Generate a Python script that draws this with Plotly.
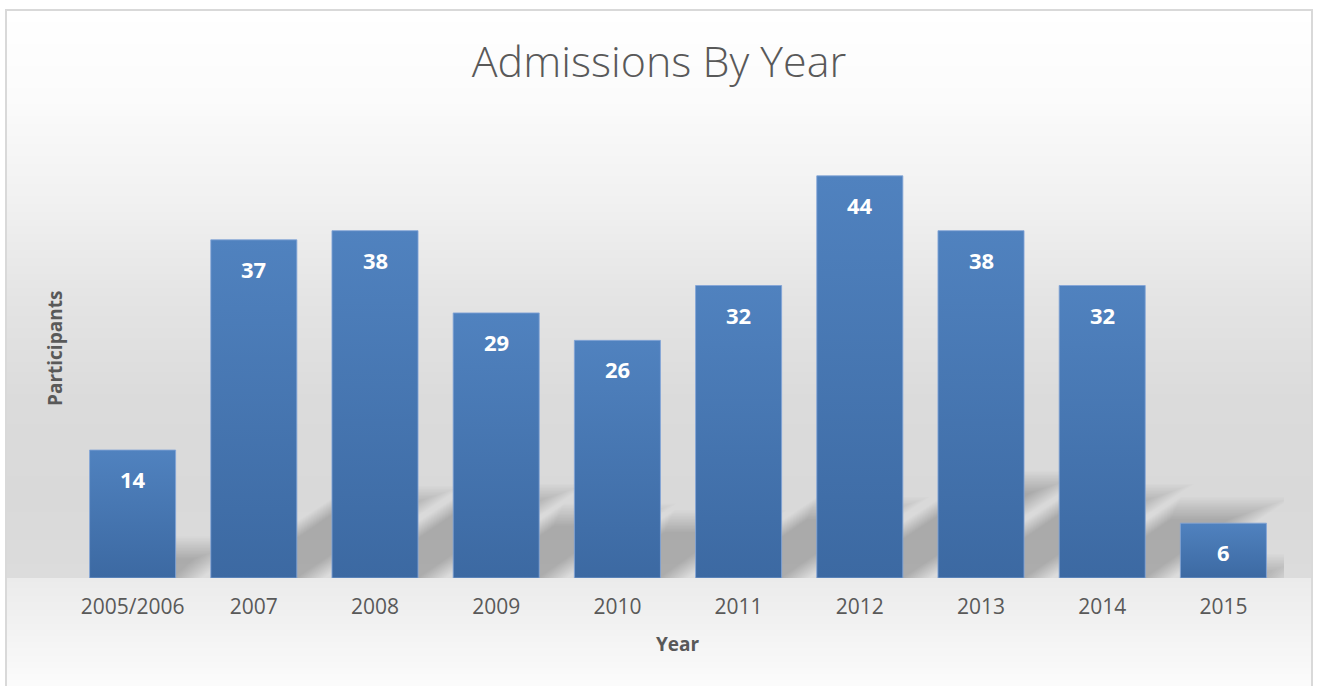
import plotly.graph_objects as go

# Admissions per year
years = ["2005/2006", "2007", "2008", "2009", "2010", "2011", "2012", "2013", "2014", "2015"]
participants = [14, 37, 38, 29, 26, 32, 44, 38, 32, 6]

W, H = 1320, 686
L, R, T, B = 72, 36, 121, 108
PW, PH = W - L - R, H - T - B
Y_MAX = 50
BAR_W = 0.71
FONT = "Open Sans"
GREY_TEXT = "#595959"

X_PX = PW / len(years)      # pixels per category
Y_PX = PH / Y_MAX           # pixels per unit


def px_x(px):
    return (px - L) / PW


def px_y(py):
    return (H - B - py) / PH


def hex2rgb(h):
    h = h.lstrip("#")
    return tuple(int(h[i:i + 2], 16) for i in (0, 2, 4))


def lerp_color(stops, y):
    for (y0, c0), (y1, c1) in zip(stops, stops[1:]):
        if y0 <= y <= y1:
            t = 0 if y1 == y0 else (y - y0) / (y1 - y0)
            a, b = hex2rgb(c0), hex2rgb(c1)
            return "rgb(%d,%d,%d)" % tuple(round(a[k] + (b[k] - a[k]) * t) for k in range(3))
    return stops[-1][1]


shapes = []

# chart-area gradient: light at top, grey towards the floor, lighter floor below
wall = [(10, "#ffffff"), (100, "#fbfbfb"), (200, "#f1f1f1"), (300, "#e4e4e4"),
        (400, "#dbdbdb"), (500, "#d9d9d9"), (578, "#dcdcdc")]
floor = [(578, "#ebebeb"), (620, "#f1f1f1"), (690, "#fcfcfc")]
for y in range(10, 690, 2):
    stops = wall if y < 578 else floor
    y_end = min(y + 3, 578) if y < 578 else y + 3
    shapes.append(dict(type="rect", xref="paper", yref="paper", layer="below",
                       x0=px_x(6), x1=px_x(1312), y0=px_y(y_end), y1=px_y(y),
                       fillcolor=lerp_color(stops, y + 1), line=dict(width=0)))

# soft perspective shadows cast up and to the right of each bar
SH_K = 0.24     # vertical squash of the shadow
SH_A = 0.40     # horizontal shear (px per px of bar height)
LAYERS = 16
BLUR = 11
for i, v in enumerate(participants):
    h_px = v * Y_PX
    top = SH_K * v
    shift = SH_A * h_px / X_PX
    for k in range(LAYERS):
        d = -BLUR + 2 * BLUR * k / (LAYERS - 1)          # inset in px
        dx = d * 1.2 / X_PX
        dy = d / Y_PX
        x0 = i - BAR_W / 2 + dx
        x1 = i + BAR_W / 2 - dx
        yt = max(top - dy, 0.05)
        sx = shift * (yt / top) if top else 0
        path = "M %f %f L %f %f L %f %f L %f %f Z" % (
            x0, -1, x1, -1, x1 + sx, yt, x0 + sx, yt)
        shapes.append(dict(type="path", xref="x", yref="y", layer="below", path=path,
                           fillcolor="black", opacity=0.0115, line=dict(width=0)))

# chart border
shapes.append(dict(type="rect", xref="paper", yref="paper", layer="below",
                   x0=px_x(6), x1=px_x(1312), y0=px_y(700), y1=px_y(10),
                   fillcolor="rgba(0,0,0,0)", line=dict(color="#d9d9d9", width=2)))

fig = go.Figure()

# bars with a vertical gradient fill
for i, v in enumerate(participants):
    x0, x1 = i - BAR_W / 2, i + BAR_W / 2
    fig.add_trace(go.Scatter(
        x=[x0, x1, x1, x0, x0], y=[0, 0, v, v, 0],
        mode="lines", fill="toself",
        fillgradient=dict(type="vertical",
                          colorscale=[[0, "#3c69a2"], [1, "#5082bf"]]),
        line=dict(color="rgba(130,165,215,0.85)", width=1),
        hoverinfo="skip", showlegend=False))

annotations = []
for i, v in enumerate(participants):
    annotations.append(dict(x=i, y=v, xref="x", yref="y", text="<b>%d</b>" % v,
                            showarrow=False, yanchor="middle", yshift=-29,
                            font=dict(family=FONT, size=22, color="white")))

annotations.append(dict(x=0.5, y=px_y(644), xref="paper", yref="paper", text="<b>Year</b>",
                        showarrow=False, xanchor="center", yanchor="middle",
                        font=dict(family=FONT, size=19, color=GREY_TEXT)))
annotations.append(dict(x=px_x(55), y=px_y(349), xref="paper", yref="paper",
                        text="<b>Participants</b>", textangle=-90,
                        showarrow=False, xanchor="center", yanchor="middle",
                        font=dict(family=FONT, size=19, color=GREY_TEXT)))

fig.update_layout(
    width=W, height=H,
    margin=dict(l=L, r=R, t=T, b=B, pad=0),
    paper_bgcolor="white",
    plot_bgcolor="rgba(0,0,0,0)",
    title=dict(text="Admissions By Year", xref="container", yref="container",
               x=659 / W, y=1 - 62 / H, xanchor="center", yanchor="middle",
               font=dict(family=FONT, size=43, color=GREY_TEXT, weight=300)),
    xaxis=dict(range=[-0.5, len(years) - 0.5], tickmode="array",
               tickvals=list(range(len(years))), ticktext=years,
               showgrid=False, zeroline=False, showline=False, ticks="",
               ticklabelstandoff=14,
               tickfont=dict(family=FONT, size=21, color=GREY_TEXT), fixedrange=True),
    yaxis=dict(range=[0, Y_MAX], visible=False, showgrid=False, zeroline=False,
               fixedrange=True),
    shapes=shapes,
    annotations=annotations,
    showlegend=False,
)

fig.write_html("out.html")
